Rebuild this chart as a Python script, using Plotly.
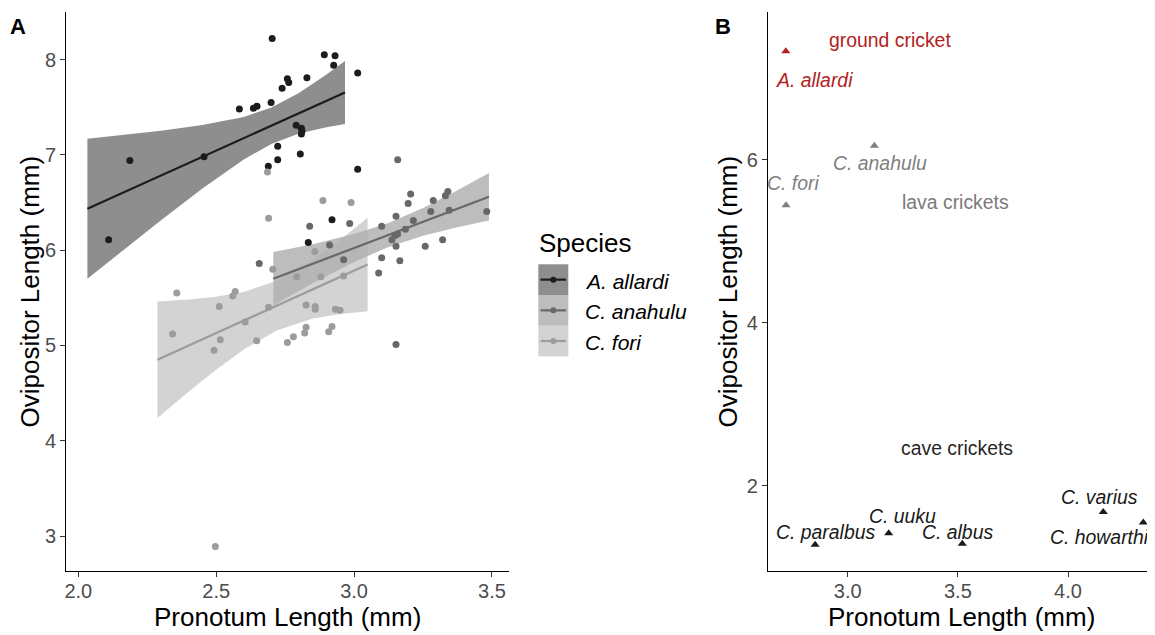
import plotly.graph_objects as go

# ---------------- Panel A data ----------------
allardi_x = [2.703, 2.892, 2.931, 2.926, 3.013, 2.758, 2.763, 2.829, 2.739, 2.584,
             2.635, 2.648, 2.699, 2.790, 2.809, 2.811, 2.809, 2.723, 2.723, 2.689,
             2.805, 3.013, 2.187, 2.456, 2.920, 2.834, 2.110]
allardi_y = [8.22, 8.05, 8.04, 7.94, 7.86, 7.80, 7.76, 7.81, 7.70, 7.48,
             7.49, 7.51, 7.55, 7.31, 7.28, 7.25, 7.22, 7.09, 6.95, 6.88,
             7.01, 6.85, 6.94, 6.98, 6.32, 6.08, 6.11]

anahulu_x = [3.158, 3.205, 3.196, 3.340, 3.331, 3.287, 3.278, 3.345, 3.481, 3.152,
             3.215, 3.100, 3.186, 3.158, 3.148, 3.137, 3.152, 3.258, 3.321, 3.100,
             3.166, 3.089, 2.984, 2.839, 2.911, 2.656, 2.962, 3.152]
anahulu_y = [6.95, 6.59, 6.49, 6.615, 6.57, 6.52, 6.405, 6.42, 6.405, 6.355,
             6.31, 6.25, 6.22, 6.17, 6.155, 6.11, 6.04, 6.04, 6.11, 5.92,
             5.89, 5.76, 6.28, 6.25, 6.055, 5.86, 5.90, 5.01]

fori_x = [2.686, 2.887, 2.989, 2.690, 2.858, 2.705, 2.792, 2.879, 2.962, 2.826,
          2.859, 2.859, 2.932, 2.949, 2.690, 2.826, 2.821, 2.780, 2.758, 2.920,
          2.908, 2.647, 2.357, 2.560, 2.569, 2.511, 2.342, 2.605, 2.515, 2.492,
          2.497]
fori_y = [6.82, 6.52, 6.50, 6.335, 5.985, 5.80, 5.72, 5.72, 5.73, 5.425,
          5.41, 5.38, 5.38, 5.37, 5.40, 5.19, 5.13, 5.09, 5.03, 5.20,
          5.145, 5.05, 5.55, 5.52, 5.565, 5.41, 5.12, 5.245, 5.06, 4.95,
          2.89]

# linear fits with 95% CI band
allardi_fit_x = [2.033, 2.15, 2.30, 2.45, 2.60, 2.70, 2.80, 2.90, 2.967]
allardi_fit_y = [6.435, 6.588, 6.784, 6.980, 7.175, 7.306, 7.437, 7.567, 7.655]
allardi_lo = [5.700, 5.971, 6.314, 6.647, 6.952, 7.115, 7.224, 7.291, 7.325]
allardi_hi = [7.170, 7.205, 7.254, 7.313, 7.398, 7.497, 7.650, 7.843, 7.985]

anahulu_fit_x = [2.707, 2.85, 3.00, 3.125, 3.25, 3.37, 3.489]
anahulu_fit_y = [5.700, 5.857, 6.022, 6.160, 6.297, 6.429, 6.560]
anahulu_lo = [5.42, 5.652, 5.875, 6.034, 6.151, 6.237, 6.31]
anahulu_hi = [5.98, 6.062, 6.169, 6.286, 6.443, 6.621, 6.81]

fori_fit_x = [2.287, 2.40, 2.50, 2.60, 2.72, 2.85, 2.95, 3.049]
fori_fit_y = [4.850, 4.998, 5.129, 5.260, 5.418, 5.589, 5.720, 5.850]
fori_lo = [4.24, 4.514, 4.746, 4.958, 5.158, 5.282, 5.331, 5.36]
fori_hi = [5.46, 5.482, 5.512, 5.562, 5.678, 5.896, 6.109, 6.34]

species_names = ["A. allardi", "C. anahulu", "C. fori"]

# ---------------- Panel B data ----------------
b_species = ["A. allardi", "C. anahulu", "C. fori", "C. paralbus", "C. uuku",
             "C. albus", "C. varius", "C. howarthi"]
b_group = ["ground", "lava", "lava", "cave", "cave", "cave", "cave", "cave"]
b_pronotum = [2.719, 3.121, 2.720, 2.852, 3.186, 3.520, 4.160, 4.342]
b_ovipositor = [7.33, 6.17, 5.44, 1.28, 1.42, 1.29, 1.68, 1.55]
b_label_x = [2.85, 3.147, 2.75, 2.90, 3.248, 3.497, 4.142, 4.145]
b_label_y = [6.98, 5.96, 5.72, 1.44, 1.63, 1.44, 1.87, 1.37]
group_names = ["ground cricket", "lava crickets", "cave crickets"]
group_label_x = [3.192, 3.49, 3.495]
group_label_y = [7.47, 5.48, 2.46]

# ---------------- styles ----------------
FONT = "Liberation Sans, Arial, sans-serif"
OFF = 8                      # page body margin of the html page
W, H = 1155 - OFF, 635 - OFF
pt_col = {"A. allardi": "#1c1c1c", "C. anahulu": "#686868", "C. fori": "#9c9c9c"}
band_col = {"A. allardi": "rgba(57,57,57,0.57)", "C. anahulu": "rgba(139,139,139,0.57)",
            "C. fori": "rgba(178,178,178,0.57)"}
grp_col = {"ground": "#b22222", "lava": "#7f7f7f", "cave": "#1a1a1a"}
grp_txt = {"ground cricket": "#b22222", "lava crickets": "#7a7a7a", "cave crickets": "#262626"}
B_TXT = 19.4


def px(xp):
    return (xp - OFF) / W


def py(yp):
    return 1 - (yp - OFF) / H


fig = go.Figure()

series = [
    ("A. allardi", allardi_x, allardi_y, allardi_fit_x, allardi_fit_y, allardi_lo, allardi_hi),
    ("C. anahulu", anahulu_x, anahulu_y, anahulu_fit_x, anahulu_fit_y, anahulu_lo, anahulu_hi),
    ("C. fori", fori_x, fori_y, fori_fit_x, fori_fit_y, fori_lo, fori_hi),
]

for name, sx, sy, fx, fy, lo, hi in series:
    fig.add_trace(go.Scatter(x=fx + fx[::-1], y=hi + lo[::-1], fill="toself",
                             fillcolor=band_col[name], line=dict(width=0),
                             mode="lines", hoverinfo="skip", xaxis="x", yaxis="y"))
for name, sx, sy, fx, fy, lo, hi in series:
    fig.add_trace(go.Scatter(x=fx, y=fy, mode="lines",
                             line=dict(color=pt_col[name], width=2.2), xaxis="x", yaxis="y"))
for name, sx, sy, fx, fy, lo, hi in series:
    fig.add_trace(go.Scatter(x=sx, y=sy, mode="markers", name=name,
                             marker=dict(color=pt_col[name], size=7, line=dict(width=0)),
                             xaxis="x", yaxis="y"))

# Panel B triangles
for g in ["ground", "lava", "cave"]:
    idx = [i for i, gg in enumerate(b_group) if gg == g]
    fig.add_trace(go.Scatter(x=[b_pronotum[i] for i in idx], y=[b_ovipositor[i] for i in idx],
                             mode="markers",
                             marker=dict(symbol="triangle-up", size=8, color=grp_col[g], line=dict(width=0)),
                             xaxis="x2", yaxis="y2"))

annotations = []
for i, s in enumerate(b_species):
    annotations.append(dict(x=b_label_x[i], y=b_label_y[i], xref="x2", yref="y2",
                            text="<i>" + s + "</i>", showarrow=False,
                            font=dict(family=FONT, size=B_TXT, color=grp_col[b_group[i]]),
                            xanchor="center", yanchor="middle"))
for i, g in enumerate(group_names):
    annotations.append(dict(x=group_label_x[i], y=group_label_y[i], xref="x2", yref="y2",
                            text=g, showarrow=False,
                            font=dict(family=FONT, size=B_TXT, color=grp_txt[g]),
                            xanchor="center", yanchor="middle"))

# axis titles
for cx in [287.5, 961.5]:
    annotations.append(dict(x=px(cx), y=py(617), xref="paper", yref="paper",
                            text="Pronotum Length (mm)", showarrow=False,
                            font=dict(family=FONT, size=26, color="black"),
                            xanchor="center", yanchor="middle"))
for cx in [29, 727]:
    annotations.append(dict(x=px(cx), y=py(291.5), xref="paper", yref="paper",
                            text="Ovipositor Length (mm)", showarrow=False, textangle=-90,
                            font=dict(family=FONT, size=26, color="black"),
                            xanchor="center", yanchor="middle"))
# panel tags
annotations.append(dict(x=px(18), y=py(27), xref="paper", yref="paper", text="<b>A</b>",
                        showarrow=False, font=dict(family=FONT, size=22, color="black"),
                        xanchor="center", yanchor="middle"))
annotations.append(dict(x=px(723), y=py(26), xref="paper", yref="paper", text="<b>B</b>",
                        showarrow=False, font=dict(family=FONT, size=22, color="black"),
                        xanchor="center", yanchor="middle"))

# legend (drawn manually, ggplot style)
shapes = []
annotations.append(dict(x=px(537), y=py(243), xref="paper", yref="paper", text="Species",
                        showarrow=False, font=dict(family=FONT, size=26, color="black"),
                        xanchor="left", yanchor="middle"))
row_top = [264.3, 295.0, 325.7]
for i, name in enumerate(species_names):
    t = row_top[i]
    b = t + 30.7
    cy = (t + b) / 2
    shapes.append(dict(type="rect", xref="paper", yref="paper", x0=px(538.3), x1=px(568.3),
                       y0=py(b), y1=py(t), fillcolor=band_col[name], line=dict(width=0), layer="above"))
    shapes.append(dict(type="line", xref="paper", yref="paper", x0=px(540.5), x1=px(566),
                       y0=py(cy), y1=py(cy), line=dict(color=pt_col[name], width=2.2), layer="above"))
    shapes.append(dict(type="circle", xref="paper", yref="paper", x0=px(550.3), x1=px(556.3),
                       y0=py(cy + 3), y1=py(cy - 3), fillcolor=pt_col[name],
                       line=dict(width=0), layer="above"))
    annotations.append(dict(x=px(583), y=py(cy + 1.5), xref="paper", yref="paper",
                            text="<i>" + name + "</i>", showarrow=False,
                            font=dict(family=FONT, size=21, color="black"),
                            xanchor="left", yanchor="middle"))

ax_common = dict(showline=True, linecolor="black", linewidth=1.3, ticks="outside", ticklen=5,
                 tickwidth=1.2, tickcolor="#333333", showgrid=False, zeroline=False,
                 tickfont=dict(family=FONT, size=20, color="#4d4d4d"), automargin=False)

ydom = [py(571.3), py(12.3)]
fig.update_layout(
    width=W, height=H,
    margin=dict(l=0, r=0, t=0, b=0),
    paper_bgcolor="white", plot_bgcolor="white",
    showlegend=False,
    xaxis=dict(domain=[px(66.3), px(508.7)], range=[1.9565, 3.5606], anchor="y",
               tickvals=[2.0, 2.5, 3.0, 3.5], ticktext=["2.0", "2.5", "3.0", "3.5"],
               ticklabelstandoff=-3, **ax_common),
    yaxis=dict(domain=ydom, range=[2.63, 8.496], anchor="x",
               tickvals=[3, 4, 5, 6, 7, 8], **ax_common),
    xaxis2=dict(domain=[px(768), 1.0], range=[2.638, 4.395], anchor="y2",
                tickvals=[3.0, 3.5, 4.0], ticktext=["3.0", "3.5", "4.0"],
                ticklabelstandoff=-3, **ax_common),
    yaxis2=dict(domain=ydom, range=[0.953, 7.807], anchor="x2",
                tickvals=[2, 4, 6], **ax_common),
    annotations=annotations,
    shapes=shapes,
)

fig.write_html("out.html")
